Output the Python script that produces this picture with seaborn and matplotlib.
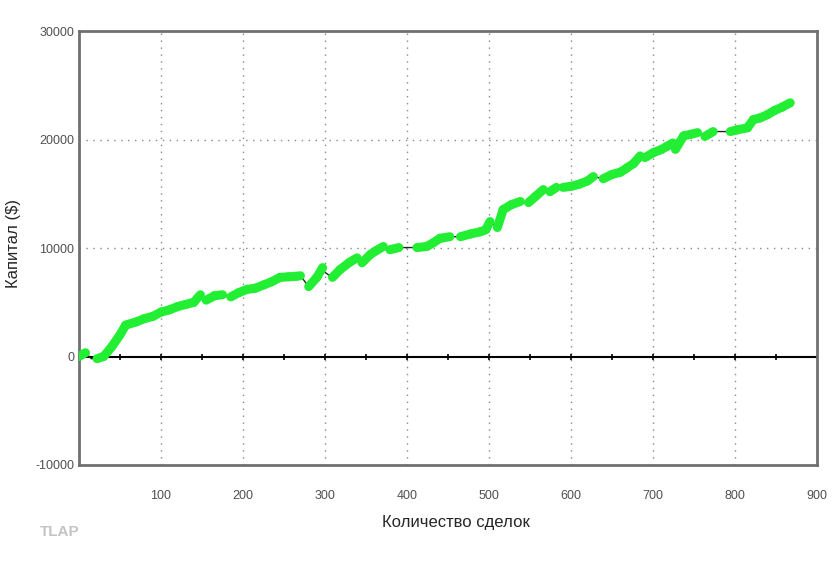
import numpy as np
import pandas as pd
import seaborn as sns
import matplotlib.pyplot as plt
from matplotlib.ticker import MultipleLocator

# trade number vs. account equity
trades = [0, 8, 15, 22, 30, 40, 50, 57, 70, 80, 90, 100, 110, 120, 130, 140, 148, 155, 165, 175,
          185, 195, 205, 215, 225, 235, 245, 255, 265, 270, 280, 290, 297, 300, 309, 318, 330, 339, 345, 355,
          363, 371, 379, 390, 400, 412, 424, 432, 440, 452, 465, 477, 489, 496, 501, 510, 517, 527, 538, 548,
          557, 566, 574, 582, 590, 600, 610, 620, 627, 639, 650, 660, 668, 676, 684, 690, 700, 710, 717, 724,
          727, 737, 746, 754, 763, 773, 785, 794, 802, 815, 822, 830, 839, 848, 857, 867]
equity = [0, 350, -200, -200, 0, 900, 2000, 2900, 3200, 3500, 3700, 4100, 4300, 4600, 4800, 5000, 5700, 5200, 5600, 5700,
          5500, 5900, 6200, 6300, 6600, 6900, 7300, 7350, 7400, 7450, 6450, 7300, 8200, 7750, 7300, 8000, 8700, 9100, 8650, 9400,
          9800, 10150, 9850, 10050, 10050, 10050, 10150, 10500, 10900, 11050, 11050, 11300, 11500, 11700, 12450, 11900, 13550, 14000, 14300, 14200,
          14800, 15400, 15200, 15600, 15600, 15700, 15900, 16200, 16600, 16400, 16800, 17000, 17400, 17800, 18500, 18350, 18800, 19100, 19400, 19700,
          19100, 20350, 20500, 20650, 20300, 20750, 20750, 20750, 20900, 21100, 21850, 22000, 22300, 22700, 23000, 23400]

y_ticks = [-10000, 0, 10000, 20000, 30000]
x_ticks = [100, 200, 300, 400, 500, 600, 700, 800, 900]

df = pd.DataFrame({'trade': trades, 'equity': equity})
# green = rising stretch of the equity curve
df['up'] = df['equity'].diff() > 0

sns.set_style('white')
plt.rcParams['font.family'] = ['Liberation Sans', 'DejaVu Sans']

fig = plt.figure(figsize=(8.4, 5.79), dpi=100)
ax = fig.add_axes([0.094, 0.197, 0.879, 0.749])

# grid
for xv in x_ticks[:-1]:
    ax.axvline(xv, color='#888888', linestyle=(0, (1, 4)), lw=1, zorder=0)
for yv in [10000, 20000]:
    ax.axhline(yv, color='#888888', linestyle=(0, (1, 4)), lw=1, zorder=0)
ax.axhline(0, color='black', lw=1.5, zorder=1)
# small ticks along the zero line
zt = np.arange(50, 900, 50)
ax.plot(zt, np.zeros_like(zt), linestyle='none', marker='|', color='black', ms=5, mew=1.2, zorder=1)

sns.lineplot(data=df, x='trade', y='equity', color='#222222', lw=1, ax=ax, zorder=2)
for i in df.index[df['up']]:
    seg = df.loc[i - 1:i]
    ax.plot(seg['trade'], seg['equity'], color='#22ee33', lw=6.5, solid_capstyle='round', zorder=3)

ax.set_xlim(0, 900)
ax.set_ylim(-10000, 30000)
ax.set_xticks(x_ticks)
ax.set_yticks(y_ticks)
ax.set_yticklabels([str(v) for v in y_ticks], fontsize=9, color='#505050')
ax.set_xticklabels([str(v) for v in x_ticks], fontsize=9, color='#505050')
ax.yaxis.set_minor_locator(MultipleLocator(5000))
ax.tick_params(axis='x', length=0, pad=18)
ax.tick_params(axis='y', which='major', length=3, width=1.2, direction='inout', pad=2)
ax.tick_params(axis='y', which='minor', length=4, width=1.2, direction='inout', color='black')

for s in ax.spines.values():
    s.set_color('#707070')
    s.set_linewidth(2)

ax.set_xlabel('Количество сделок', fontsize=12)
ax.set_ylabel('Капитал ($)', fontsize=12)
ax.xaxis.set_label_coords(0.51, -0.115)
ax.yaxis.set_label_coords(-0.078, 0.51)

fig.text(0.048, 0.075, 'TLAP', fontsize=11, fontweight='bold', color='#c4c4c4')

fig.savefig('out.png', dpi=100, facecolor='white')
